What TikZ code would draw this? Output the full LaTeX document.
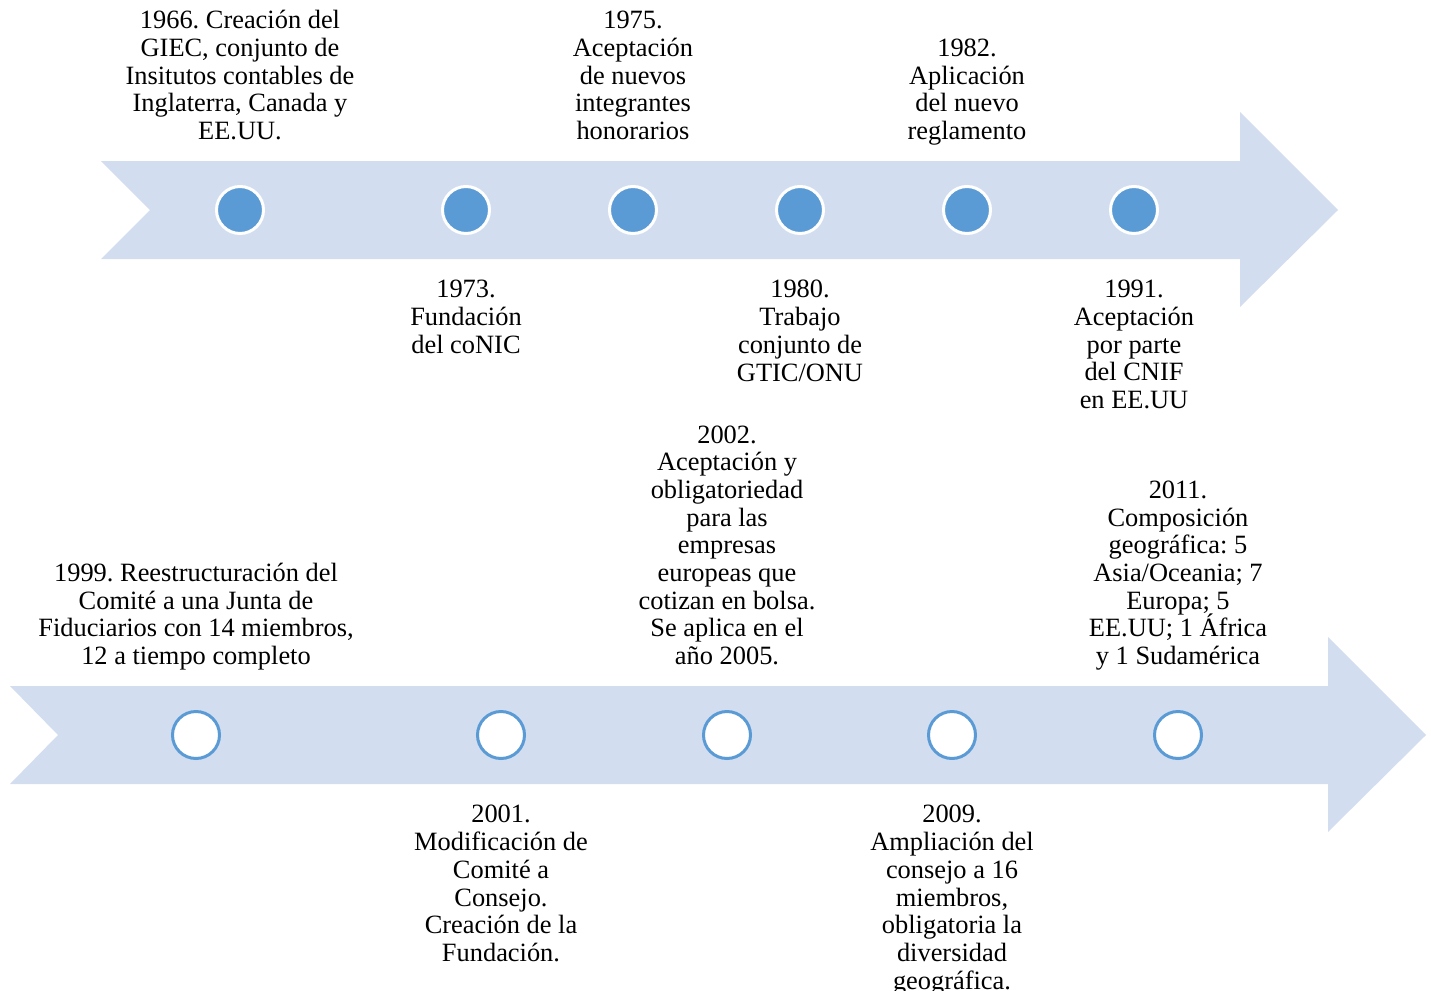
\documentclass[tikz,border=0pt]{standalone}
\usepackage{fontspec}
\setmainfont{Liberation Serif}
\frenchspacing
\usetikzlibrary{positioning}
\definecolor{bandBlue}{RGB}{210,222,239}
\definecolor{dotBlue}{RGB}{91,155,213}
\newcommand\noteFont{\fontsize{13.2pt}{13.85pt}\selectfont\lineskiplimit=-20pt\relax}
\tikzset{%
  % Specifications for style of nodes:
          dotBase/.style = {circle, minimum size=23.5pt, inner sep=0pt,
                            outer sep=0pt, line width=1.5pt},
         dotFirst/.style = {dotBase, draw=white, fill=dotBlue},
        dotSecond/.style = {dotBase, draw=dotBlue, fill=white},
         noteBase/.style = {align=center, inner sep=0pt, font=\noteFont},
        noteAbove/.style = {noteBase, text depth=0pt},
        noteBelow/.style = {noteBase},
             band/.style = {fill=bandBlue, draw=none},
}

\begin{document}
\begin{tikzpicture}[x=0.5pt, y=-0.5pt, node distance=23.25pt]
  \useasboundingbox (0,0) rectangle (1431,991);

  % Specification of the two arrows
  \path[band] (101,161) -- (1240,161) -- (1240,112) -- (1338,210)
    -- (1240,307) -- (1240,259) -- (101,259) -- (150,210) -- cycle;
  \path[band] (10,686) -- (1328,686) -- (1328,637) -- (1426,735)
    -- (1328,832) -- (1328,784) -- (10,784) -- (58,735) -- cycle;

  % Specification of dots (position, etc.)
  \node (dot1966) [dotFirst] at (240,210) {};
  \node (dot1973) [dotFirst] at (466,210) {};
  \node (dot1975) [dotFirst] at (633,210) {};
  \node (dot1980) [dotFirst] at (800,210) {};
  \node (dot1982) [dotFirst] at (967,210) {};
  \node (dot1991) [dotFirst] at (1134,210) {};

  \node (dot1999) [dotSecond] at (196,735) {};
  \node (dot2001) [dotSecond] at (501,735) {};
  \node (dot2002) [dotSecond] at (727,735) {};
  \node (dot2009) [dotSecond] at (952,735) {};
  \node (dot2011) [dotSecond] at (1178,735) {};

  % Specification of texts next to the dots
  \node (note1966) [noteAbove, above=of dot1966]
    {1966. Creación del\\GIEC, conjunto de\\Insitutos contables de\\Inglaterra, Canada y\\EE.UU.};
  \node (note1973) [noteBelow, below=of dot1973]
    {1973.\\Fundación\\del coNIC};
  \node (note1975) [noteAbove, above=of dot1975]
    {1975.\\Aceptación\\de nuevos\\integrantes\\honorarios};
  \node (note1980) [noteBelow, below=of dot1980]
    {1980.\\Trabajo\\conjunto de\\GTIC/ONU};
  \node (note1982) [noteAbove, above=of dot1982]
    {1982.\\Aplicación\\del nuevo\\reglamento};
  \node (note1991) [noteBelow, below=of dot1991]
    {1991.\\Aceptación\\por parte\\del CNIF\\en EE.UU};

  \node (note1999) [noteAbove, above=of dot1999]
    {1999. Reestructuración del\\Comité a una Junta de\\Fiduciarios con 14 miembros,\\12 a tiempo completo};
  \node (note2001) [noteBelow, below=of dot2001]
    {2001.\\Modificación de\\Comité a\\Consejo.\\Creación de la\\Fundación.};
  \node (note2002) [noteAbove, above=of dot2002]
    {2002.\\Aceptación y\\obligatoriedad\\para las\\empresas\\europeas que\\cotizan en bolsa.\\Se aplica en el\\año 2005.};
  \node (note2009) [noteBelow, below=of dot2009]
    {2009.\\Ampliación del\\consejo a 16\\miembros,\\obligatoria la\\diversidad\\geográfica.};
  \node (note2011) [noteAbove, above=of dot2011]
    {2011.\\Composición\\geográfica: 5\\Asia/Oceania; 7\\Europa; 5\\EE.UU; 1 África\\y 1 Sudamérica};
\end{tikzpicture}
\end{document}
